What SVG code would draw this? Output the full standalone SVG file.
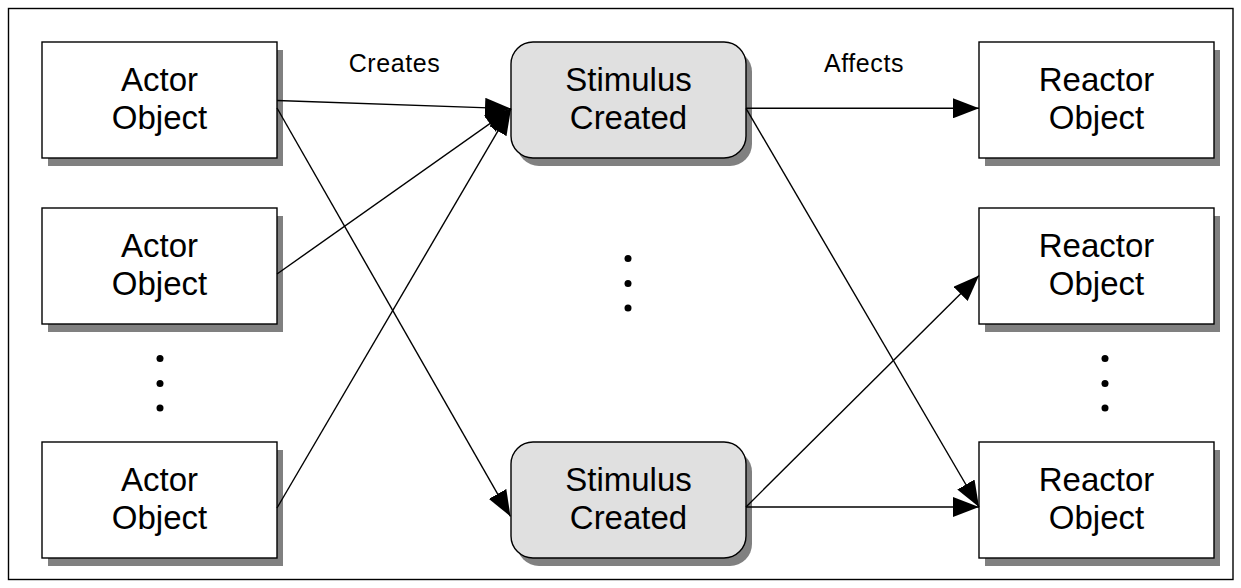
<svg xmlns="http://www.w3.org/2000/svg" width="1241" height="588" viewBox="0 0 1241 588">
  <defs>
    <style>
      .box { fill: #ffffff; stroke: #000000; stroke-width: 1.4; }
      .stim { fill: #e0e0e0; stroke: #000000; stroke-width: 1.4; }
      .shadow { fill: #808080; stroke: none; }
      .label { font-family: "Liberation Sans", Arial, sans-serif; font-size: 33px; fill: #000000; text-anchor: middle; }
      .edge-label { font-family: "Liberation Sans", Arial, sans-serif; font-size: 25px; fill: #000000; text-anchor: middle; letter-spacing: 0.6px; }
      .conn { stroke: #000000; stroke-width: 1.4; fill: none; marker-end: url(#arrow); }
      .dot { fill: #000000; }
    </style>
    <marker id="arrow" viewBox="0 0 26 20" refX="26" refY="10" markerWidth="26" markerHeight="20" markerUnits="userSpaceOnUse" orient="auto">
      <path d="M0,0 L26,10 L0,20 Z" fill="#000000"/>
    </marker>
  </defs>

  <rect width="1241" height="588" fill="#ffffff"/>
  <!-- outer frame -->
  <rect x="8.5" y="8.5" width="1224.5" height="571" fill="none" stroke="#000000" stroke-width="1.4"/>

  <!-- actor column -->
  <g id="actor1">
    <rect class="shadow" x="48" y="50" width="235" height="116"/>
    <rect class="box" x="42" y="42" width="235" height="116"/>
    <text class="label" x="159.5" y="90.5">Actor</text>
    <text class="label" x="159.5" y="128.5">Object</text>
  </g>
  <g id="actor2">
    <rect class="shadow" x="48" y="216" width="235" height="116"/>
    <rect class="box" x="42" y="208" width="235" height="116"/>
    <text class="label" x="159.5" y="256.5">Actor</text>
    <text class="label" x="159.5" y="294.5">Object</text>
  </g>
  <g id="actor-dots">
    <circle class="dot" cx="160" cy="358.5" r="3.5"/>
    <circle class="dot" cx="160" cy="383.5" r="3.5"/>
    <circle class="dot" cx="160" cy="408" r="3.5"/>
  </g>
  <g id="actor3">
    <rect class="shadow" x="48" y="450" width="235" height="116"/>
    <rect class="box" x="42" y="442" width="235" height="116"/>
    <text class="label" x="159.5" y="490.5">Actor</text>
    <text class="label" x="159.5" y="528.5">Object</text>
  </g>

  <!-- stimulus column -->
  <g id="stimulus1">
    <rect class="shadow" x="517" y="50" width="235" height="116" rx="22"/>
    <rect class="stim" x="511" y="42" width="235" height="116" rx="22"/>
    <text class="label" x="628.5" y="90.5">Stimulus</text>
    <text class="label" x="628.5" y="128.5">Created</text>
  </g>
  <g id="stimulus-dots">
    <circle class="dot" cx="628" cy="258.5" r="3.5"/>
    <circle class="dot" cx="628" cy="283.5" r="3.5"/>
    <circle class="dot" cx="628" cy="308" r="3.5"/>
  </g>
  <g id="stimulus2">
    <rect class="shadow" x="517" y="450" width="235" height="116" rx="22"/>
    <rect class="stim" x="511" y="442" width="235" height="116" rx="22"/>
    <text class="label" x="628.5" y="490.5">Stimulus</text>
    <text class="label" x="628.5" y="528.5">Created</text>
  </g>

  <!-- reactor column -->
  <g id="reactor1">
    <rect class="shadow" x="985" y="50" width="235" height="116"/>
    <rect class="box" x="979" y="42" width="235" height="116"/>
    <text class="label" x="1096.5" y="90.5">Reactor</text>
    <text class="label" x="1096.5" y="128.5">Object</text>
  </g>
  <g id="reactor2">
    <rect class="shadow" x="985" y="216" width="235" height="116"/>
    <rect class="box" x="979" y="208" width="235" height="116"/>
    <text class="label" x="1096.5" y="256.5">Reactor</text>
    <text class="label" x="1096.5" y="294.5">Object</text>
  </g>
  <g id="reactor-dots">
    <circle class="dot" cx="1105" cy="358.5" r="3.5"/>
    <circle class="dot" cx="1105" cy="383.5" r="3.5"/>
    <circle class="dot" cx="1105" cy="408" r="3.5"/>
  </g>
  <g id="reactor3">
    <rect class="shadow" x="985" y="450" width="235" height="116"/>
    <rect class="box" x="979" y="442" width="235" height="116"/>
    <text class="label" x="1096.5" y="490.5">Reactor</text>
    <text class="label" x="1096.5" y="528.5">Object</text>
  </g>

  <!-- connectors -->
  <g id="connectors">
    <line class="conn" x1="277" y1="100.5" x2="511" y2="108.7"/>
    <line class="conn" x1="277" y1="274" x2="511" y2="108.7"/>
    <line class="conn" x1="277" y1="508" x2="511" y2="108.7"/>
    <line class="conn" x1="277" y1="108" x2="510.5" y2="516.5"/>
    <line class="conn" x1="746" y1="108.3" x2="979" y2="108.3"/>
    <line class="conn" x1="746" y1="108.3" x2="979" y2="507"/>
    <line class="conn" x1="746" y1="507" x2="979" y2="275.5"/>
    <line class="conn" x1="746" y1="507" x2="979" y2="507"/>
    <text class="edge-label" x="394.5" y="72">Creates</text>
    <text class="edge-label" x="864" y="72">Affects</text>
  </g>
</svg>
